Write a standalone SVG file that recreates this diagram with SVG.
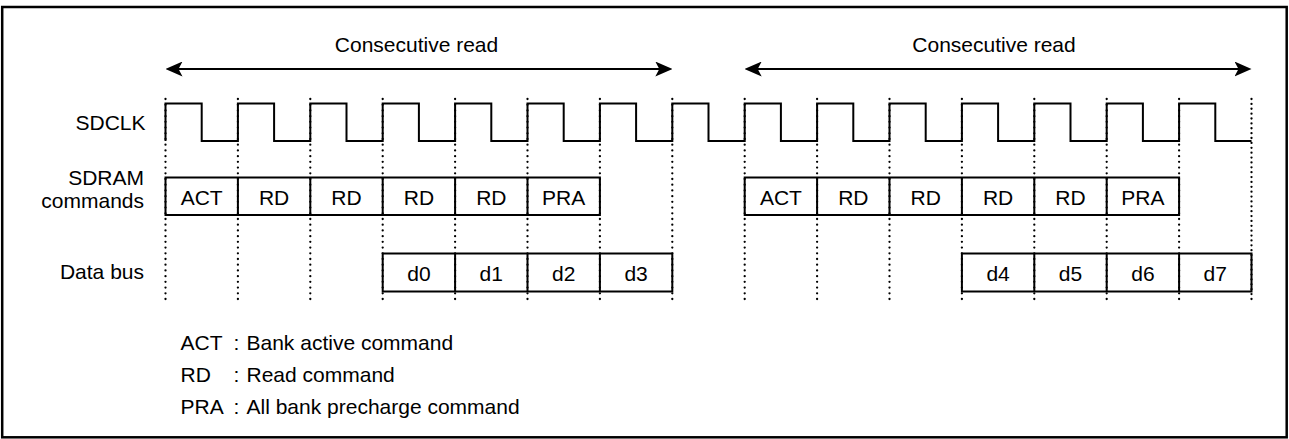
<svg xmlns="http://www.w3.org/2000/svg" width="1289" height="439" viewBox="0 0 1289 439">
<style>
text{font-family:"Liberation Sans",Arial,sans-serif;font-size:21px;fill:#000}
.c{text-anchor:middle}
.e{text-anchor:end}
.box{fill:none;stroke:#000;stroke-width:2}
.sig{fill:none;stroke:#000;stroke-width:2;stroke-linejoin:miter}
.dot{stroke:#000;stroke-width:2.3;stroke-linecap:round;stroke-dasharray:0 5.714}
.dot2{stroke:#000;stroke-width:2.3;stroke-linecap:round;stroke-dasharray:0 4.878}
.arr{stroke:#000;stroke-width:2;fill:none}
</style>
<defs>
<marker id="ah" viewBox="0 0 17 15" refX="14" refY="7.5" markerWidth="17" markerHeight="15" markerUnits="userSpaceOnUse" orient="auto-start-reverse">
<path d="M0,0 L17,7.5 L0,15 L4,7.5 Z" fill="#000"/>
</marker>
</defs>
<rect x="2.2" y="7" width="1284.5" height="430.3" fill="#fff" stroke="#000" stroke-width="2.5"/>

<g id="guides">
<line class="dot" x1="165.5" y1="99" x2="165.5" y2="299"/>
<line class="dot" x1="237.9" y1="99" x2="237.9" y2="299"/>
<line class="dot" x1="310.3" y1="99" x2="310.3" y2="299"/>
<line class="dot" x1="382.7" y1="99" x2="382.7" y2="299"/>
<line class="dot" x1="455.1" y1="99" x2="455.1" y2="299"/>
<line class="dot" x1="527.5" y1="99" x2="527.5" y2="299"/>
<line class="dot" x1="599.9" y1="99" x2="599.9" y2="299"/>
<line class="dot" x1="672.3" y1="99" x2="672.3" y2="299"/>
<line class="dot" x1="744.7" y1="99" x2="744.7" y2="299"/>
<line class="dot" x1="817.1" y1="99" x2="817.1" y2="299"/>
<line class="dot" x1="889.5" y1="99" x2="889.5" y2="299"/>
<line class="dot" x1="961.9" y1="99" x2="961.9" y2="299"/>
<line class="dot" x1="1034.3" y1="99" x2="1034.3" y2="299"/>
<line class="dot" x1="1106.7" y1="99" x2="1106.7" y2="299"/>
<line class="dot" x1="1179.1" y1="99" x2="1179.1" y2="299"/>
<line class="dot2" x1="1251.5" y1="99" x2="1251.5" y2="299"/>
</g>

<g id="connectors">
<line class="arr" x1="168.5" y1="69" x2="669.3" y2="69" marker-start="url(#ah)" marker-end="url(#ah)"/>
<line class="arr" x1="747.7" y1="69" x2="1248.5" y2="69" marker-start="url(#ah)" marker-end="url(#ah)"/>
</g>

<g id="labels">
<text class="c" x="416.5" y="52">Consecutive read</text>
<text class="c" x="994" y="52">Consecutive read</text>
<text class="e" x="145.5" y="129.5">SDCLK</text>
<text class="e" x="144" y="185">SDRAM</text>
<text class="e" x="144" y="208">commands</text>
<text class="e" x="144" y="278.5">Data bus</text>
</g>

<g id="sdclk">
<path class="sig" d="M165.5,141 V103.5 H201.7 V141 H237.9 V103.5 H274.1 V141 H310.3 V103.5 H346.5 V141 H382.7 V103.5 H418.9 V141 H455.1 V103.5 H491.3 V141 H527.5 V103.5 H563.7 V141 H599.9 V103.5 H636.1 V141 H672.3 V103.5 H708.5 V141 H744.7 V103.5 H780.9 V141 H817.1 V103.5 H853.3 V141 H889.5 V103.5 H925.7 V141 H961.9 V103.5 H998.1 V141 H1034.3 V103.5 H1070.5 V141 H1106.7 V103.5 H1142.9 V141 H1179.1 V103.5 H1215.3 V141 H1251.5"/>
</g>

<g id="cmd1">
<rect class="box" x="165.5" y="177.5" width="434.4" height="37.5"/>
<path class="box" d="M237.9,177.5 V215 M310.3,177.5 V215 M382.7,177.5 V215 M455.1,177.5 V215 M527.5,177.5 V215"/>
<text class="c" x="201.7" y="204.5">ACT</text>
<text class="c" x="274.1" y="204.5">RD</text>
<text class="c" x="346.5" y="204.5">RD</text>
<text class="c" x="418.9" y="204.5">RD</text>
<text class="c" x="491.3" y="204.5">RD</text>
<text class="c" x="563.7" y="204.5">PRA</text>
</g>

<g id="cmd2">
<rect class="box" x="744.7" y="177.5" width="434.4" height="37.5"/>
<path class="box" d="M817.1,177.5 V215 M889.5,177.5 V215 M961.9,177.5 V215 M1034.3,177.5 V215 M1106.7,177.5 V215"/>
<text class="c" x="780.9" y="204.5">ACT</text>
<text class="c" x="853.3" y="204.5">RD</text>
<text class="c" x="925.7" y="204.5">RD</text>
<text class="c" x="998.1" y="204.5">RD</text>
<text class="c" x="1070.5" y="204.5">RD</text>
<text class="c" x="1142.9" y="204.5">PRA</text>
</g>

<g id="data1">
<rect class="box" x="382.7" y="253.5" width="289.6" height="38"/>
<path class="box" d="M455.1,253.5 V291.5 M527.5,253.5 V291.5 M599.9,253.5 V291.5"/>
<text class="c" x="418.9" y="280.5">d0</text>
<text class="c" x="491.3" y="280.5">d1</text>
<text class="c" x="563.7" y="280.5">d2</text>
<text class="c" x="636.1" y="280.5">d3</text>
</g>

<g id="data2">
<rect class="box" x="961.9" y="253.5" width="289.6" height="38"/>
<path class="box" d="M1034.3,253.5 V291.5 M1106.7,253.5 V291.5 M1179.1,253.5 V291.5"/>
<text class="c" x="998.1" y="280.5">d4</text>
<text class="c" x="1070.5" y="280.5">d5</text>
<text class="c" x="1142.9" y="280.5">d6</text>
<text class="c" x="1215.3" y="280.5">d7</text>
</g>

<g id="legend">
<text x="180.5" y="349.5">ACT</text>
<text x="233.5" y="349.5">:</text>
<text x="246.5" y="349.5">Bank active command</text>
<text x="180.5" y="381.5">RD</text>
<text x="233.5" y="381.5">:</text>
<text x="246.5" y="381.5">Read command</text>
<text x="180.5" y="413.5">PRA</text>
<text x="233.5" y="413.5">:</text>
<text x="246.5" y="413.5">All bank precharge command</text>
</g>
</svg>
